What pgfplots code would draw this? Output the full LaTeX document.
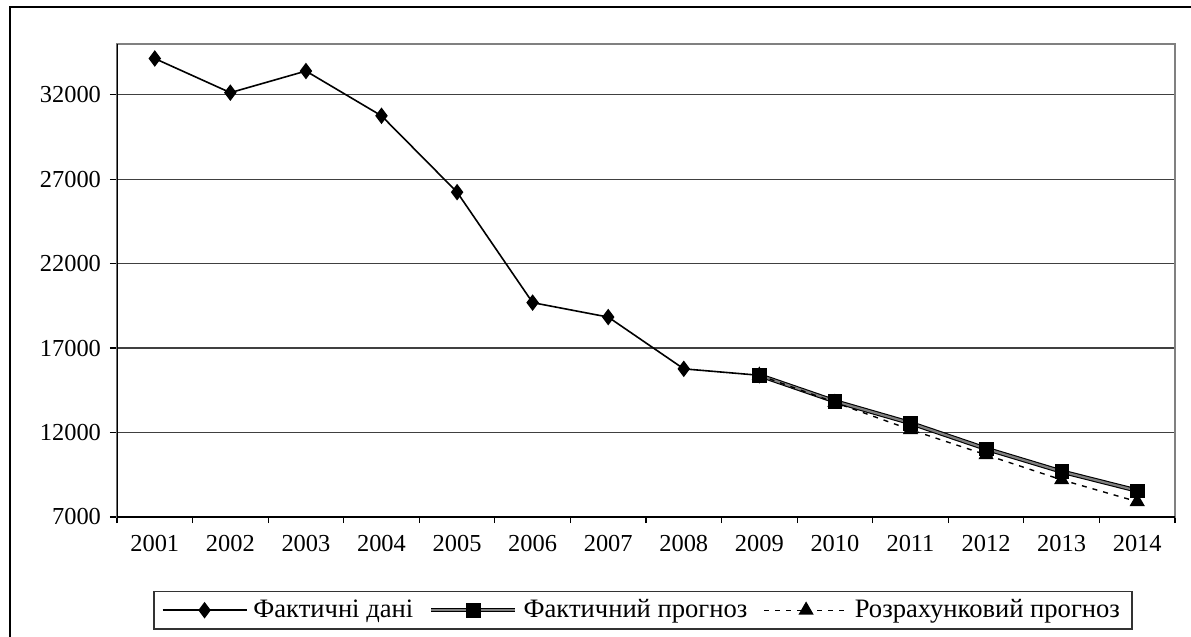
\documentclass[border=0pt]{standalone}
\usepackage{fontspec}
\setmainfont{Liberation Serif}
\usepackage{pgfplots}
\pgfplotsset{compat=1.18}
\begin{document}
\begin{tikzpicture}
\path[use as bounding box] (0,0) rectangle (595.5pt,-318.5pt);
\draw[line width=0.8pt] (600pt,-3.5pt) -- (5pt,-3.5pt) -- (5pt,-330pt);
\begin{axis}[
  at={(58.5pt,-258.5pt)}, anchor=south west,
  scale only axis, width=529pt, height=236.5pt,
  xmin=0.5, xmax=14.5, ymin=7000, ymax=35000,
  xtick={1,...,14},
  xticklabels={2001,2002,2003,2004,2005,2006,2007,2008,2009,2010,2011,2012,2013,2014},
  minor xtick={0.5,1.5,...,14.5},
  ytick={7000,12000,...,32000},
  scaled y ticks=false,
  xtick pos=bottom, ytick pos=left,
  tick align=outside, major tick length=3.5pt, minor tick length=3pt,
  major x tick style={draw=none},
  tick style={black, line width=0.6pt},
  ymajorgrids, grid style={black!75, line width=0.6pt},
  axis line style={draw=gray, line width=0.8pt},
  xticklabel style={yshift=-2pt},
  yticklabel style={xshift=-1pt},
  /pgf/number format/assume math mode=true,
  /pgf/number format/1000 sep={},
  tick label style={font=\fontsize{12.2}{14}\selectfont},
  legend columns=3,
  legend style={at={(0.034,-0.156)}, anchor=north west, draw=black!80, line width=0.8pt,
    font=\fontsize{13.3}{15}\selectfont, inner xsep=4pt, inner ysep=2pt,
    /tikz/every odd column/.append style={column sep=1pt},
    /tikz/every even column/.append style={column sep=6pt}},
  legend image code/.code={
    \draw[#1] (0pt,0pt) -- (21pt,0pt);
    \draw[#1] (21pt,0pt) -- (42pt,0pt);
    \path[#1] plot coordinates {(21pt,0pt)};
  },
]
\addplot[black, line width=0.8pt, mark=diamond*, mark size=3.5pt, mark options={solid, fill=black}]
coordinates {(1,34140) (2,32120) (3,33400) (4,30750) (5,26230) (6,19690) (7,18835) (8,15770) (9,15390)};
\addlegendentry{Фактичні дані}
\addplot[draw=black, line width=0.55pt, double=black!50, double distance=1.1pt, mark=square*, mark size=3.4pt, mark options={solid, fill=black, double distance=0pt, line width=0.3pt}]
coordinates {(9,15390) (10,13850) (11,12560) (12,11040) (13,9690) (14,8560)};
\addlegendentry{Фактичний прогноз}
\addplot[black, line width=0.7pt, dash pattern=on 2.5pt off 3pt, mark=triangle*, mark size=3.7pt, mark options={solid, fill=black}]
coordinates {(9,15390) (10,13780) (11,12170) (12,10680) (13,9200) (14,7910)};
\addlegendentry{Розрахунковий прогноз}
\draw[black, line width=0.8pt] (rel axis cs:0,1) -- (rel axis cs:0,0) -- (rel axis cs:1,0);
\end{axis}
\end{tikzpicture}
\end{document}
